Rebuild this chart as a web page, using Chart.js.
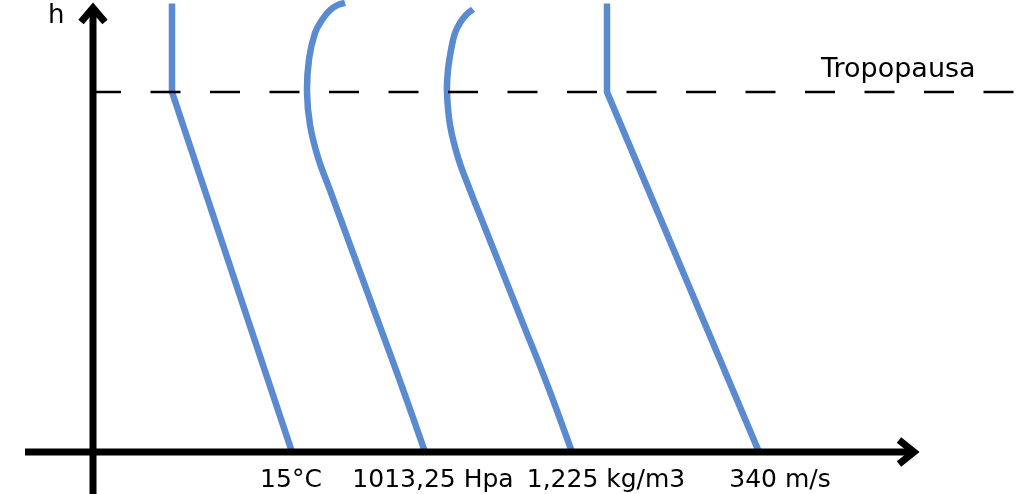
<!DOCTYPE html>
<html>
<head>
<meta charset="utf-8">
<script src="https://cdn.jsdelivr.net/npm/chart.js@4.4.1/dist/chart.umd.min.js"></script>
<style>
  html, body { margin: 0; padding: 0; background: #fff; }
  #wrap { width: 1024px; height: 494px; }
</style>
</head>
<body>
<div id="wrap"><canvas id="chart"></canvas></div>
<script>
// altitude h (km) against a schematic x value (0 = the h axis)
const tempH = [0, 11, 13.7];
const tempX = [199, 79, 79];

const presH = [0, 2, 4, 6, 7, 8, 9, 10, 11, 12, 12.8, 13.2, 13.5, 13.66, 13.72];
const presX = [332, 309, 285, 261, 249, 237, 225, 217, 214, 216, 222, 229, 237, 245, 252];

const densH = [0, 2, 4, 6, 7, 8, 9, 10, 11, 11.67, 12.28, 12.8, 13.11, 13.35, 13.53];
const densX = [479, 455, 429, 403, 390, 377, 365, 357, 354, 355, 358, 362, 367, 373, 380];

const soundH = [0, 11, 13.7];
const soundX = [666, 514, 514];

const tickValues = [198, 340, 513, 687];
const tickLabels = ['15°C', '1013,25 Hpa', '1,225 kg/m3', '340 m/s'];

const tropopauseH = 11;
const tropopauseLabel = 'Tropopausa';
const yAxisLabel = 'h';

const blue = '#5a8ad0';
const fontFamily = '"DejaVu Sans", sans-serif';

function points(xs, hs) {
    return xs.map((x, i) => ({ x: x, y: hs[i] }));
}

function line(xs, hs, tension) {
    return {
        data: points(xs, hs),
        showLine: true,
        indexAxis: 'y',
        borderColor: blue,
        borderWidth: 6.5,
        pointRadius: 0,
        tension: tension,
        clip: false
    };
}

// axes with arrows, tropopause line and the free labels
const decorations = {
    id: 'decorations',
    afterDatasetsDraw(chart) {
        const { ctx, scales: { x, y } } = chart;
        const ox = x.getPixelForValue(0);
        const oy = y.getPixelForValue(0);
        const ty = y.getPixelForValue(tropopauseH);
        ctx.save();
        ctx.strokeStyle = '#000';
        ctx.lineWidth = 2.5;
        ctx.setLineDash([30, 29.5]);
        ctx.beginPath();
        ctx.moveTo(ox - 2, ty);
        ctx.lineTo(1014, ty);
        ctx.stroke();
        ctx.setLineDash([]);

        ctx.lineWidth = 7;
        ctx.lineJoin = 'miter';
        ctx.beginPath();
        ctx.moveTo(25, oy);
        ctx.lineTo(913, oy);
        ctx.moveTo(ox, 494);
        ctx.lineTo(ox, 9);
        ctx.stroke();
        ctx.beginPath();
        ctx.moveTo(899, oy - 12);
        ctx.lineTo(914, oy);
        ctx.lineTo(899, oy + 12);
        ctx.stroke();
        ctx.beginPath();
        ctx.moveTo(ox - 12, 22);
        ctx.lineTo(ox, 8);
        ctx.lineTo(ox + 12, 22);
        ctx.stroke();

        ctx.fillStyle = '#000';
        ctx.textBaseline = 'alphabetic';
        ctx.font = '27px ' + fontFamily;
        ctx.fillText(tropopauseLabel, 821, ty - 15);
        ctx.font = '26px ' + fontFamily;
        ctx.fillText(yAxisLabel, 48, 23);
        ctx.restore();
    }
};

const config = {
    type: 'scatter',
    data: {
        datasets: [
            line(tempX, tempH, 0),
            line(presX, presH, 0.4),
            line(densX, densH, 0.4),
            line(soundX, soundH, 0)
        ]
    },
    options: {
        responsive: true,
        maintainAspectRatio: false,
        animation: false,
        events: [],
        layout: { padding: 0 },
        plugins: {
            legend: { display: false },
            tooltip: { enabled: false }
        },
        scales: {
            x: {
                type: 'linear',
                min: -93,
                max: 931,
                position: { y: 0 },
                grid: { display: false },
                border: { display: false },
                afterBuildTicks: (scale) => {
                    scale.ticks = tickValues.map(v => ({ value: v }));
                },
                ticks: {
                    autoSkip: false,
                    maxRotation: 0,
                    padding: 5,
                    color: '#000',
                    font: { family: fontFamily, size: 25 },
                    callback: (value, index) => tickLabels[index]
                }
            },
            y: {
                type: 'linear',
                min: -1.283,
                max: 13.81,
                display: false
            }
        }
    },
    plugins: [decorations]
};

var chart = new Chart(document.getElementById('chart'), config);
</script>
</body>
</html>
